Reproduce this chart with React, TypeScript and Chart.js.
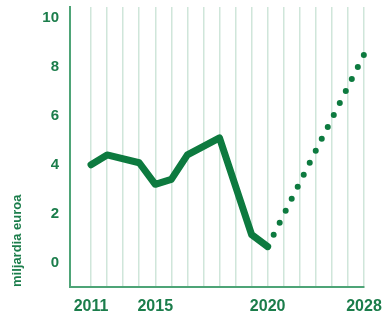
import React, { useEffect, useRef } from "react";
import { Chart, registerables } from "chart.js";

Chart.register(...registerables);

// grid positions (one vertical line per position) and their labels
const positions = [0, 1, 2, 3, 4, 5, 6, 7, 8, 9, 10, 11, 12, 13, 14, 15, 16, 17];
const positionLabels = ["2011", "", "", "", "2015", "", "", "", "", "", "", "2020", "", "", "", "", "", "2028"];

// actual values (billion euros)
const actualX = [0, 1, 3, 4, 5, 6, 8, 10, 11];
const actualY = [4.0, 4.4, 4.08, 3.2, 3.4, 4.4, 5.1, 1.14, 0.65];

// forecast values
const forecastX = [11, 17];
const forecastY = [0.65, 8.5];

const yTicks = [0, 2, 4, 6, 8, 10];

const TEXT = "#1b7d4b";
const LINE = "#0d7a3f";
const AXIS = "#4ea477";
const GRID = "#cfe6da";

export default function App() {
  const ref = useRef<HTMLCanvasElement | null>(null);

  useEffect(() => {
    document.body.style.margin = "0";
    if (!ref.current) return;
    const chart = new Chart(ref.current, {
      type: "line",
      data: {
        datasets: [
          {
            data: actualX.map((x, i) => ({ x, y: actualY[i] })),
            borderColor: LINE,
            borderWidth: 7,
            borderCapStyle: "round",
            borderJoinStyle: "round",
            pointRadius: 0,
            tension: 0,
            clip: false,
          },
          {
            data: forecastX.map((x, i) => ({ x, y: forecastY[i] })),
            borderColor: LINE,
            borderWidth: 6,
            borderCapStyle: "round",
            borderDash: [0, 13.4],
            pointRadius: 0,
            tension: 0,
            clip: false,
          },
        ],
      },
      options: {
        animation: false,
        responsive: false,
        maintainAspectRatio: false,
        layout: { padding: { top: 7, right: 18, left: 0, bottom: 0 } },
        plugins: { legend: { display: false }, tooltip: { enabled: false } },
        scales: {
          x: {
            type: "linear",
            min: -1.31,
            max: 17,
            afterBuildTicks: (s: any) => {
              s.ticks = positions.map((v) => ({ value: v }));
            },
            afterFit: (s: any) => {
              s.height = 30;
              s.paddingLeft = 0;
              s.paddingRight = 0;
            },
            grid: { color: GRID, lineWidth: 1.5, drawTicks: false },
            border: { color: AXIS, width: 2 },
            ticks: {
              autoSkip: false,
              maxRotation: 0,
              padding: 10,
              color: TEXT,
              font: { family: "Liberation Sans, Arial, sans-serif", size: 16, weight: "bold" },
              callback: (v: any) => positionLabels[positions.indexOf(Number(v))] ?? "",
            },
          },
          y: {
            min: -1,
            max: 10.45,
            afterBuildTicks: (s: any) => {
              s.ticks = yTicks.map((v) => ({ value: v }));
            },
            afterFit: (s: any) => {
              s.width = 70;
              s.paddingTop = 0;
              s.paddingBottom = 0;
            },
            grid: { display: false, drawTicks: false },
            border: { color: AXIS, width: 2 },
            ticks: {
              padding: 11,
              color: TEXT,
              font: { family: "Liberation Sans, Arial, sans-serif", size: 15, weight: "bold" },
            },
            title: {
              display: true,
              text: "miljardia euroa",
              align: "start",
              color: TEXT,
              padding: { top: 10, bottom: 0 },
              font: { family: "Liberation Sans, Arial, sans-serif", size: 13, weight: "bold" },
            },
          },
        },
      },
    } as any);
    return () => chart.destroy();
  }, []);

  return <canvas ref={ref} width={382} height={317} style={{ display: "block" }} />;
}
